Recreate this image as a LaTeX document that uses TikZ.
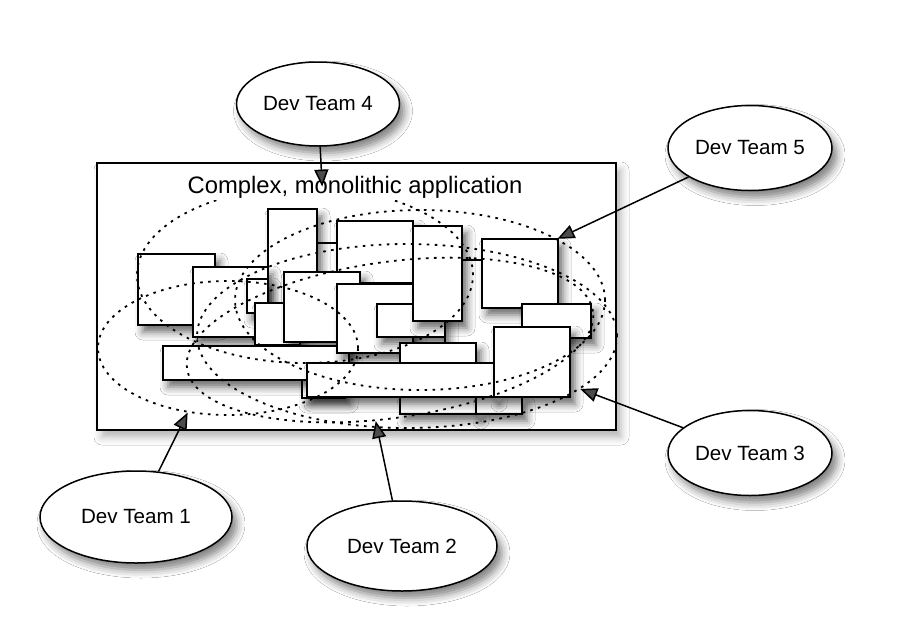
\documentclass[tikz,border=0pt]{standalone}
\usepackage{fontspec}
\setmainfont{Liberation Sans}
\usetikzlibrary{shapes.geometric, arrows.meta, shadows.blur}

\tikzset{
  soft/.style={blur shadow={shadow xshift=2.5pt, shadow yshift=-3.5pt,
                            shadow blur radius=4pt, shadow opacity=#1}},
  soft/.default=60,
  block/.style={draw, fill=white, line width=1pt, soft},
  team/.style={ellipse, draw, fill=white, line width=0.75pt, inner sep=0pt,
               font=\fontsize{10.3}{12}\selectfont, soft=50},
  zone/.style={ellipse, draw, line width=0.9pt, inner sep=0pt,
               dash pattern=on 1.3pt off 2.7pt},
  link/.style={-{Triangle[length=8.5pt, width=7pt]}, line width=0.75pt}
}

\begin{document}
\begin{tikzpicture}[x=0.5pt, y=-0.5pt]

  \useasboundingbox[fill=white] (0, 0) rectangle (900, 638);

  % the application
  \draw[line width=0.9pt, fill=white, soft=30] (97, 163) rectangle (616, 430);

  \foreach \xa/\ya/\xb/\yb in {300/243/345/290, 268/209/317/305, 337/221/413/283,
                               138/254/215/325, 193/267/268/337, 247/279/268/313,
                               255/303/300/345, 284/272/360/342, 302/355/345/398,
                               163/346/349/380, 337/284/413/353, 445/260/522/365,
                               377/304/445/337, 413/226/462/321, 482/239/558/308,
                               522/304/591/338, 400/343/476/363, 400/397/476/414,
                               476/397/522/414, 307/363/494/397, 494/327/570/397} {
    \draw[block] (\xa, \ya) rectangle (\xb, \yb);
  }

  % what each team works on
  \node[zone, minimum width=130pt, minimum height=67pt] (e1) at (228, 348) {};
  \node[zone, minimum width=205pt, minimum height=78pt, rotate=8] (e2) at (390, 340) {};
  \node[zone, minimum width=210pt, minimum height=92pt] (e3) at (407, 336) {};
  \node[zone, minimum width=168pt, minimum height=88pt] (e4) at (305, 275) {};
  \node[zone, minimum width=185pt, minimum height=90pt] (e5) at (420, 300) {};

  \node[fill=white, inner sep=1pt, font=\fontsize{11.9}{14}\selectfont]
    (title) at (355, 187) {Complex, monolithic application};

  % teams
  \node[team, minimum width=81.5pt, minimum height=42pt] (team4) at (318, 104) {Dev Team 4};
  \node[team, minimum width=82pt, minimum height=42.5pt] (team5) at (750, 148) {Dev Team 5};
  \node[team, minimum width=82pt, minimum height=42.5pt] (team3) at (750, 453) {Dev Team 3};
  \node[team, minimum width=96pt, minimum height=46pt] (team1) at (136, 517) {Dev Team 1};
  \node[team, minimum width=95pt, minimum height=45pt] (team2) at (402, 546) {Dev Team 2};

  \draw[link] (team4) -- (e4.79);
  \draw[link] (team5) -- (e5.24);
  \draw[link] (team3) -- (e3.-17);
  \draw[link] (team1) -- (e1.-122);
  \draw[link] (team2) -- (e2.-108);

\end{tikzpicture}
\end{document}
